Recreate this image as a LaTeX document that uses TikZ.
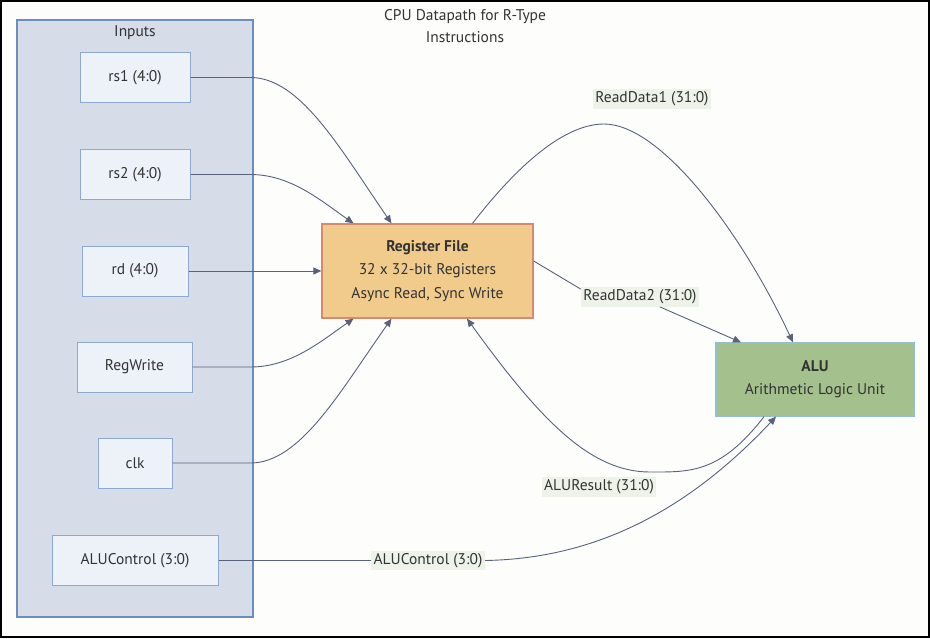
\documentclass[tikz,border=0pt]{standalone}
\usepackage{fontspec}
\setmainfont{PT Sans}
\usetikzlibrary{arrows.meta}
\definecolor{pagebg}{HTML}{FDFDFB}
\definecolor{grpfill}{HTML}{D6DCE8}
\definecolor{grpline}{HTML}{6C8EBF}
\definecolor{infill}{HTML}{EDF1F8}
\definecolor{inline}{HTML}{8FA8CF}
\definecolor{rffill}{HTML}{F0CB8C}
\definecolor{rfline}{HTML}{D98870}
\definecolor{alufill}{HTML}{A3C08D}
\definecolor{aluline}{HTML}{94BFC8}
\definecolor{lblfill}{HTML}{EEF3EA}
\definecolor{wirec}{HTML}{58627A}
\definecolor{txt}{HTML}{333333}

\begin{document}
\begin{tikzpicture}[x=1pt,y=-1pt,
  every node/.style={font=\fontsize{15.5}{18}\selectfont,text=txt},
  inbox/.style={draw=inline,fill=infill,line width=1pt,inner sep=0pt,minimum height=50pt},
  unit/.style={line width=1.3pt,inner sep=0pt,align=center},
  lbl/.style={fill=lblfill,inner sep=2.5pt},
  wire/.style={draw=wirec,line width=.9pt,-{Triangle[length=8pt,width=7pt]}},
  bare/.style={draw=wirec,line width=.9pt}]
  \useasboundingbox (0,0) rectangle (930,638);
  \draw[line width=2pt,fill=pagebg] (1,1) rectangle (929,637);
  \node at (465,26) (title) [align=center] {CPU Datapath for R-Type\\[4pt]Instructions};

  \node at (135,318.5) (inputs) [draw=grpline,fill=grpfill,line width=1.3pt,minimum width=236pt,minimum height=597pt] {};
  \node at (135,33) (inlabel) {Inputs};
  \node at (135,77.5) (rs1) [inbox,minimum width=110pt] {rs1 (4:0)};
  \node at (135,174.5) (rs2) [inbox,minimum width=110pt] {rs2 (4:0)};
  \node at (135,271) (rd) [inbox,minimum width=106pt] {rd (4:0)};
  \node at (134.5,367) (regw) [inbox,minimum width=115pt] {RegWrite};
  \node at (135,463) (clk) [inbox,minimum width=74pt] {clk};
  \node at (135,560.5) (aluctl) [inbox,minimum width=166pt] {ALUControl (3:0)};

  \node at (427.5,271) (rf) [unit,draw=rfline,fill=rffill,minimum width=211pt,minimum height=94pt] {\textbf{Register File}\\[5.5pt]32 x 32-bit Registers\\[5.5pt]Async Read, Sync Write};
  \node at (815,379.5) (alu) [unit,draw=aluline,fill=alufill,minimum width=198pt,minimum height=73pt] {\textbf{ALU}\\[5pt]Arithmetic Logic Unit};

  \node at (652,99) (rd1lbl) [lbl] {ReadData1 (31:0)};
  \node at (640,297) (rd2lbl) [lbl] {ReadData2 (31:0)};
  \node at (599,487) (reslbl) [lbl] {ALUResult (31:0)};
  \node at (428,560.5) (ctllbl) [lbl] {ALUControl (3:0)};

  \draw[wire] (rs1.east) -- ++(60,0) .. controls +(50,0) and +(-51,-74) .. ([xshift=-36pt]rf.north);
  \draw[wire] (rs2.east) -- ++(60,0) .. controls +(40,0) and +(-33,-23) .. ([xshift=-74pt]rf.north);
  \draw[wire] (rd.east) -- (rf.west);
  \draw[wire] (regw.east) -- ++(58,0) .. controls +(40,0) and +(-33,23) .. ([xshift=-74pt]rf.south);
  \draw[wire] (clk.east) -- ++(78,0) .. controls +(50,0) and +(-51,72) .. ([xshift=-36pt]rf.south);
  \draw[wire] ([xshift=45pt]rf.north) .. controls +(38,-49) and +(-44,0) .. (604,124)
    .. controls +(56,0) and +(-53,-113) .. ([xshift=-22pt]alu.north);
  \draw[bare] ([yshift=10pt]rf.east) -- ([yshift=-2pt]rd2lbl.north west);
  \draw[wire] ([xshift=20pt]rd2lbl.south) -- ([xshift=-74pt]alu.north);
  \draw[wire] ([xshift=-51pt]alu.south) .. controls +(-44,57) and +(40,0) .. (650,472)
    .. controls +(-60,0) and +(73,101) .. ([xshift=39.5pt]rf.south);
  \draw[bare] (aluctl.east) -- (ctllbl.west);
  \draw[wire] (ctllbl.east) .. controls +(120,-2) and +(-80,85) .. ([xshift=-39pt]alu.south);
\end{tikzpicture}
\end{document}
